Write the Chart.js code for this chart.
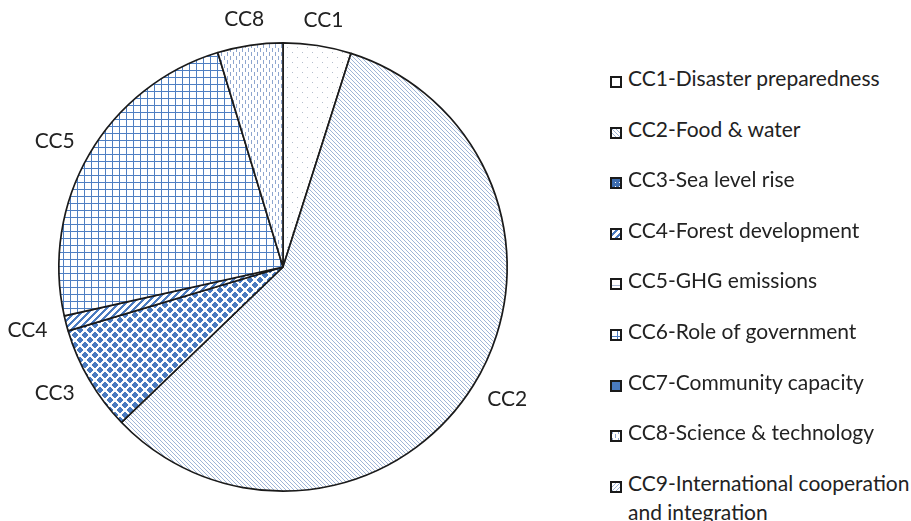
<!DOCTYPE html>
<html>
<head>
<meta charset="utf-8">
<script src="https://cdn.jsdelivr.net/npm/chart.js@4.4.1/dist/chart.umd.min.js"></script>
<style>
  html, body { margin: 0; padding: 0; background: #fff; }
  #wrap { position: relative; width: 911px; height: 521px; overflow: hidden; }
  #pie { position: absolute; left: 0; top: 0; }
  #legend { position: absolute; left: 610px; top: 0; font-family: Lato, "Liberation Sans", sans-serif;
            font-size: 21px; color: #222; }
  .item { position: absolute; left: 0; white-space: nowrap; display: flex; align-items: flex-start; }
  .item canvas { margin-top: 4px; margin-right: 6px; }
  .item span { line-height: 29px; margin-top: -9px; }
</style>
</head>
<body>
<div id="wrap">
  <canvas id="pie" width="566" height="521"></canvas>
  <div id="legend"></div>
</div>
<script>
// slices that appear in the pie (clockwise from 12 o'clock)
const sliceLabels = ["CC1", "CC2", "CC3", "CC4", "CC5", "CC8"];
const sliceShares = [4.9, 57.9, 7.6, 1.1, 23.8, 4.7];
const slicePatterns = ["dots", "hatchDown", "diamonds", "wideUp", "grid", "dashes"];

// legend entries as printed beside the chart
const legendTexts = [
  "CC1-Disaster preparedness",
  "CC2-Food & water",
  "CC3-Sea level rise",
  "CC4-Forest development",
  "CC5-GHG emissions",
  "CC6-Role of government",
  "CC7-Community capacity",
  "CC8-Science & technology",
  ["CC9-International cooperation", "and integration"],
];
const legendPatterns = ["plain", "hatchDown", "diamondsDark", "wideUp", "lowLine", "grid", "solid", "dashes", "hatchUp"];

const BLUE = "#4a7bc0";

function tile(w, h, paint) {
  const c = document.createElement("canvas");
  c.width = w; c.height = h;
  const g = c.getContext("2d");
  g.fillStyle = "#fff";
  g.fillRect(0, 0, w, h);
  paint(g, w, h);
  return c;
}
function dot(g, x, y, col) { g.fillStyle = col; g.fillRect(x, y, 1, 1); }

const TILES = {
  plain: () => tile(4, 4, () => {}),
  solid: () => tile(4, 4, (g) => { g.fillStyle = BLUE; g.fillRect(0, 0, 4, 4); }),
  dots: () => tile(10, 10, (g) => { dot(g, 2, 2, "#b3bccb"); dot(g, 7, 7, "#b3bccb"); }),
  hatchDown: () => tile(4, 4, (g) => { for (let i = 0; i < 4; i++) dot(g, i, i, "#9fb5d7"); }),
  hatchUp: () => tile(4, 4, (g) => { for (let i = 0; i < 4; i++) dot(g, i, 3 - i, "#9fb5d7"); }),
  diamonds: () => tile(10, 10, (g) => {
    for (let x = 0; x < 10; x++) for (let y = 0; y < 10; y++) {
      const cx = x + 0.5, cy = y + 0.5;
      const d1 = Math.abs(cx - 5) + Math.abs(cy - 5);
      const d2 = Math.min(cx, 10 - cx) + Math.min(cy, 10 - cy);
      if (Math.min(d1, d2) < 3.6) dot(g, x, y, BLUE);
    }
  }),
  diamondsDark: () => tile(4, 4, (g) => { g.fillStyle = "#3d6cae"; g.fillRect(0, 0, 4, 4); dot(g, 1, 1, "#fff"); }),
  wideUp: () => tile(7, 7, (g) => {
    for (let x = 0; x < 7; x++) for (let y = 0; y < 7; y++) if ((x + y) % 7 < 3) dot(g, x, y, BLUE);
  }),
  grid: () => tile(7, 7, (g) => {
    g.fillStyle = "#4f7fc2";
    g.fillRect(0, 0, 7, 1);
    g.fillRect(0, 0, 1, 7);
  }),
  lowLine: () => tile(10, 10, (g) => { g.fillStyle = "#a9b9d3"; g.fillRect(0, 7, 10, 1); }),
  dashes: () => tile(6, 8, (g) => {
    g.fillStyle = "#8ea6cf";
    g.fillRect(2, 0, 1, 4);
    g.fillRect(5, 4, 1, 4);
  }),
};

const canvas = document.getElementById("pie");
const ctx = canvas.getContext("2d");
const fills = slicePatterns.map((p) => ctx.createPattern(TILES[p](), "repeat"));

// labels placed just outside each slice, from the arc geometry
const outsideLabels = {
  id: "outsideLabels",
  afterDatasetsDraw(chart) {
    const c = chart.ctx;
    const meta = chart.getDatasetMeta(0);
    c.save();
    c.font = '21px Lato, "Liberation Sans", sans-serif';
    c.fillStyle = "#222";
    c.textAlign = "center";
    c.textBaseline = "middle";
    meta.data.forEach((arc, i) => {
      const { x, y, startAngle, endAngle, outerRadius } = arc.getProps(["x", "y", "startAngle", "endAngle", "outerRadius"], true);
      const mid = (startAngle + endAngle) / 2;
      const txt = chart.data.labels[i];
      const w = c.measureText(txt).width;
      const r = outerRadius + 20;
      const tx = x + Math.cos(mid) * (r + w / 2);
      const ty = y + Math.sin(mid) * (r + 6);
      c.fillText(txt, tx, ty);
    });
    c.restore();
  },
};

new Chart(canvas, {
  type: "pie",
  data: {
    labels: sliceLabels,
    datasets: [{
      data: sliceShares,
      backgroundColor: fills,
      borderColor: "#1a1a1a",
      borderWidth: 1.7,
    }],
  },
  options: {
    responsive: false,
    animation: false,
    devicePixelRatio: 1,
    layout: { padding: { top: 42, bottom: 29, left: 58, right: 58 } },
    plugins: { legend: { display: false }, tooltip: { enabled: false } },
    events: [],
  },
  plugins: [outsideLabels],
});

// legend beside the chart
const legend = document.getElementById("legend");
legendTexts.forEach((t, i) => {
  const row = document.createElement("div");
  row.className = "item";
  row.style.top = (72 + i * 50.6) + "px";
  const sw = document.createElement("canvas");
  sw.width = 12; sw.height = 12;
  const g = sw.getContext("2d");
  g.fillStyle = g.createPattern(TILES[legendPatterns[i]](), "repeat");
  g.fillRect(0, 0, 12, 12);
  g.strokeStyle = "#1a1a1a";
  g.lineWidth = 2;
  g.strokeRect(1, 1, 10, 10);
  const span = document.createElement("span");
  span.innerHTML = Array.isArray(t) ? t.join("<br>") : t;
  row.appendChild(sw);
  row.appendChild(span);
  legend.appendChild(row);
});
</script>
</body>
</html>
